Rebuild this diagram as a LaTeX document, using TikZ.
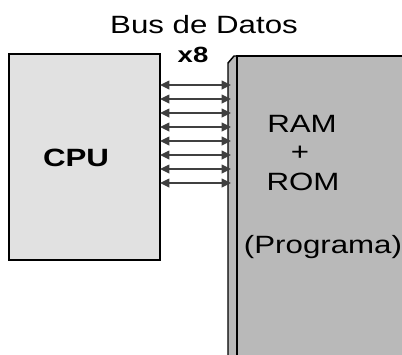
\documentclass[tikz,border=0pt]{standalone}
\usepackage{fontspec}
\newfontfamily\widesans[FakeStretch=1.25]{Liberation Sans}
\usetikzlibrary{arrows.meta}
\definecolor{cpufill}{HTML}{E1E1E1}
\definecolor{ramfill}{HTML}{B9B9B9}
\definecolor{busline}{HTML}{404040}
\tikzset{
  box/.style={draw=black, line width=1.1pt, inner sep=0pt, outer sep=0pt},
  lbl/.style={font=\widesans\fontsize{18.75}{20}\selectfont, inner sep=0pt},
  boldlbl/.style={font=\widesans\bfseries\fontsize{16.5}{18}\selectfont, inner sep=0pt},
  bus/.style={draw=busline, line width=1.1pt, {Triangle[length=7pt,width=6.5pt]}-{Triangle[length=7pt,width=6.5pt]}}
}
\begin{document}
\begin{tikzpicture}[x=0.75pt,y=-0.75pt]
\useasboundingbox (0,0) rectangle (402,354);
% CPU
\node[box, fill=cpufill, minimum width=113.25pt, minimum height=154.5pt] (cpu) at (84.5,157) {};
\node[lbl] (cputext) at (76,158) {\bfseries CPU};
% memory strip and box
\draw[line width=1.1pt, fill=ramfill] (228,380) -- (228,63) -- (234,56) -- (237,56) -- (237,380);
\node[box, fill=ramfill, minimum width=138pt, minimum height=240pt] (ram) at (329,216) {};
\coordinate (busend) at (231,56);
% bus
\foreach \i in {0,...,7}{
  \draw[bus] (cpu.east |- 0,85+14*\i) -- (busend |- 0,85+14*\i);
}
% texts
\node[lbl] (title) at (204,25) {Bus de Datos};
\node[boldlbl] (xocho) at (193,55) {x8};
\node[lbl] (ramt) at (302,124) {RAM};
\node[lbl] (plus) at (300,153) {+};
\node[lbl] (romt) at (303,182) {ROM};
\node[lbl] (prog) at (323,247) {(Programa)};
\end{tikzpicture}
\end{document}
